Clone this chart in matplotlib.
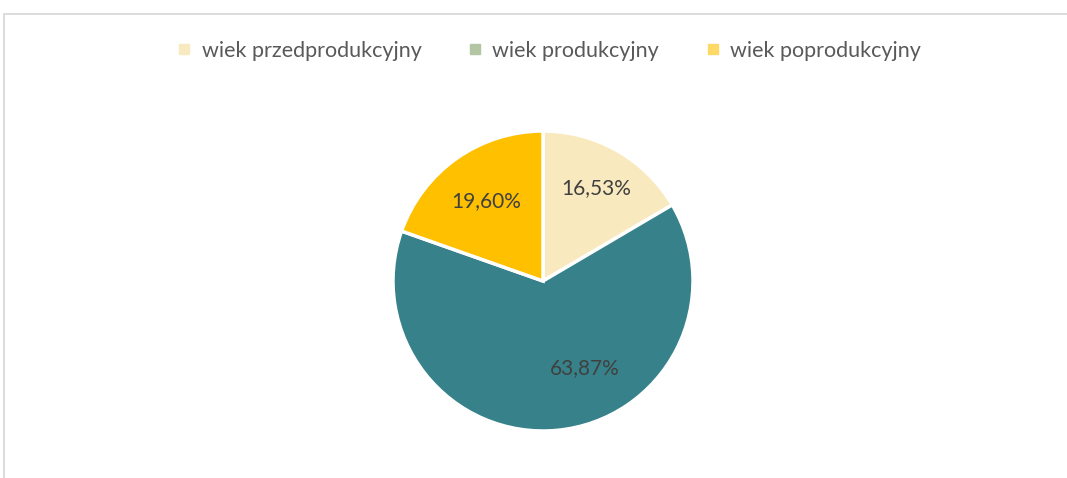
import matplotlib
matplotlib.use("Agg")
import matplotlib.pyplot as plt
from matplotlib.lines import Line2D
from matplotlib.patches import Rectangle
import numpy as np

categories = ["wiek przedprodukcyjny", "wiek produkcyjny", "wiek poprodukcyjny"]
values = [16.53, 63.87, 19.60]
labels = ["16,53%", "63,87%", "19,60%"]
slice_colors = ["#F9E9BE", "#37828A", "#FFC000"]
legend_colors = ["#F9E9BE", "#B2C6A4", "#FFD966"]

plt.rcParams['font.family'] = ['Lato', 'DejaVu Sans']

W, H = 1067, 478
fig = plt.figure(figsize=(W / 100, H / 100), dpi=100)

# chart frame
fig.patches.append(Rectangle((3.5 / W, -0.1), 1.2, 1 - 13.5 / H + 0.1,
                             transform=fig.transFigure, fill=False,
                             edgecolor="#D9D9D9", linewidth=1.3))

cx, cy, r = 543, 281, 150
ax = fig.add_axes([(cx - r) / W, (H - cy - r) / H, 2 * r / W, 2 * r / H])
wedges, _ = ax.pie(values, colors=slice_colors, startangle=90, counterclock=False,
                   radius=1, wedgeprops=dict(edgecolor="white", linewidth=2.5))
ax.set_xlim(-1, 1)
ax.set_ylim(-1, 1)
ax.set_aspect("equal")
ax.axis("off")

dists = [0.71, 0.58, 0.65]
shifts = [0.0, 0.22, 0.0]
for w, lab, d, s in zip(wedges, labels, dists, shifts):
    ang = np.deg2rad((w.theta1 + w.theta2) / 2)
    ax.text(d * np.cos(ang) + s, d * np.sin(ang), lab, ha="center", va="center",
            fontsize=15, color="#404040")

handles = [Line2D([], [], marker="s", linestyle="none", markersize=7,
                  markerfacecolor=c, markeredgecolor=c) for c in legend_colors]
fig.legend(handles, categories, loc="center", bbox_to_anchor=(0.513, 1 - 51 / H),
           ncol=3, frameon=False, fontsize=15.5, labelcolor="#595959",
           handletextpad=0.3, columnspacing=2.0, handlelength=1.0)

fig.savefig("out.png", dpi=100)
